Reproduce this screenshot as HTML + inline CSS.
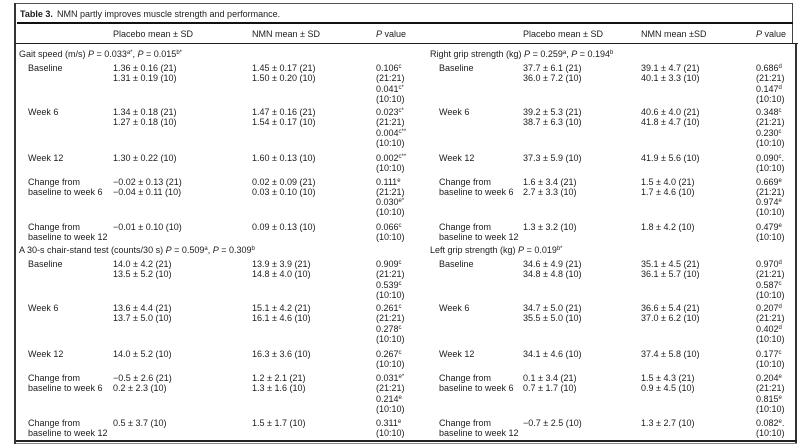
<!DOCTYPE html>
<html>
<head>
<meta charset="utf-8">
<style>
html,body{margin:0;padding:0;background:#fff;}
body{width:800px;height:444px;position:relative;overflow:hidden;font-family:"Liberation Sans",Arial,sans-serif;color:#1c1c1c;}
.t{position:absolute;font-size:9px;line-height:10.3px;white-space:nowrap;}
sup{font-size:6px;line-height:0;vertical-align:3px;}
i{font-style:italic;}
.ln{position:absolute;background:#2a2a2a;}
</style>
</head>
<body>
<!-- borders and rules -->
<div class="ln" style="left:14px;top:3px;width:779px;height:1px;background:#555;"></div>
<div class="ln" style="left:14px;top:3px;width:2px;height:441px;background:#333;"></div>
<div class="ln" style="left:792px;top:3px;width:1px;height:41px;background:#444;"></div>
<div class="ln" style="left:795px;top:43px;width:2px;height:401px;background:#333;"></div>
<div class="ln" style="left:17px;top:22px;width:776px;height:2px;background:#111;"></div>
<div class="ln" style="left:15px;top:43px;width:783px;height:1px;background:#222;"></div>
<div class="ln" style="left:16px;top:440px;width:781px;height:2px;background:#222;"></div>
<div class="ln" style="left:16px;top:443px;width:781px;height:1px;background:#888;"></div>

<!-- title -->
<div class="t" style="left:20px;top:9px;"><b>Table 3.</b></div>
<div class="t" style="left:57px;top:9px;">NMN partly improves muscle strength and performance.</div>

<!-- header -->
<div class="t" style="left:113px;top:29px;">Placebo mean ± SD</div>
<div class="t" style="left:252px;top:29px;">NMN mean ± SD</div>
<div class="t" style="left:376px;top:29px;"><i>P</i> value</div>
<div class="t" style="left:523px;top:29px;">Placebo mean ± SD</div>
<div class="t" style="left:641px;top:29px;">NMN mean ±SD</div>
<div class="t" style="left:756px;top:29px;"><i>P</i> value</div>

<!-- LEFT: Gait speed -->
<div class="t" style="left:19px;top:49px;">Gait speed (m/s) <i>P</i> = 0.033<sup>a*</sup>, <i>P</i> = 0.015<sup>b*</sup></div>

<div class="t" style="left:28px;top:63px;">Baseline</div>
<div class="t" style="left:113px;top:63px;">1.36 ± 0.16 (21)<br>1.31 ± 0.19 (10)</div>
<div class="t" style="left:252px;top:63px;">1.45 ± 0.17 (21)<br>1.50 ± 0.20 (10)</div>
<div class="t" style="left:376px;top:63px;">0.106<sup>c</sup><br>(21:21)<br>0.041<sup>c*</sup><br>(10:10)</div>

<div class="t" style="left:28px;top:107.2px;">Week 6</div>
<div class="t" style="left:113px;top:107.2px;">1.34 ± 0.18 (21)<br>1.27 ± 0.18 (10)</div>
<div class="t" style="left:252px;top:107.2px;">1.47 ± 0.16 (21)<br>1.54 ± 0.17 (10)</div>
<div class="t" style="left:376px;top:107.2px;">0.023<sup>c*</sup><br>(21:21)<br>0.004<sup>c**</sup><br>(10:10)</div>

<div class="t" style="left:28px;top:152.6px;">Week 12</div>
<div class="t" style="left:113px;top:152.6px;">1.30 ± 0.22 (10)</div>
<div class="t" style="left:252px;top:152.6px;">1.60 ± 0.13 (10)</div>
<div class="t" style="left:376px;top:152.6px;">0.002<sup>c**</sup><br>(10:10)</div>

<div class="t" style="left:28px;top:176.6px;">Change from<br>baseline to week 6</div>
<div class="t" style="left:113px;top:176.6px;">−0.02 ± 0.13 (21)<br>−0.04 ± 0.11 (10)</div>
<div class="t" style="left:252px;top:176.6px;">0.02 ± 0.09 (21)<br>0.03 ± 0.10 (10)</div>
<div class="t" style="left:376px;top:176.6px;">0.111<sup>e</sup><br>(21:21)<br>0.030<sup>e*</sup><br>(10:10)</div>

<div class="t" style="left:28px;top:221.6px;">Change from<br>baseline to week 12</div>
<div class="t" style="left:113px;top:221.6px;">−0.01 ± 0.10 (10)</div>
<div class="t" style="left:252px;top:221.6px;">0.09 ± 0.13 (10)</div>
<div class="t" style="left:376px;top:221.6px;">0.066<sup>c</sup><br>(10:10)</div>

<!-- LEFT: chair-stand -->
<div class="t" style="left:19px;top:245px;">A 30-s chair-stand test (counts/30 s) <i>P</i> = 0.509<sup>a</sup>, <i>P</i> = 0.309<sup>b</sup></div>

<div class="t" style="left:28px;top:259px;">Baseline</div>
<div class="t" style="left:113px;top:259px;">14.0 ± 4.2 (21)<br>13.5 ± 5.2 (10)</div>
<div class="t" style="left:252px;top:259px;">13.9 ± 3.9 (21)<br>14.8 ± 4.0 (10)</div>
<div class="t" style="left:376px;top:259px;">0.909<sup>c</sup><br>(21:21)<br>0.539<sup>c</sup><br>(10:10)</div>

<div class="t" style="left:28px;top:303.2px;">Week 6</div>
<div class="t" style="left:113px;top:303.2px;">13.6 ± 4.4 (21)<br>13.7 ± 5.0 (10)</div>
<div class="t" style="left:252px;top:303.2px;">15.1 ± 4.2 (21)<br>16.1 ± 4.6 (10)</div>
<div class="t" style="left:376px;top:303.2px;">0.261<sup>c</sup><br>(21:21)<br>0.278<sup>c</sup><br>(10:10)</div>

<div class="t" style="left:28px;top:348.9px;">Week 12</div>
<div class="t" style="left:113px;top:348.9px;">14.0 ± 5.2 (10)</div>
<div class="t" style="left:252px;top:348.9px;">16.3 ± 3.6 (10)</div>
<div class="t" style="left:376px;top:348.9px;">0.267<sup>c</sup><br>(10:10)</div>

<div class="t" style="left:28px;top:373.2px;">Change from<br>baseline to week 6</div>
<div class="t" style="left:113px;top:373.2px;">−0.5 ± 2.6 (21)<br>0.2 ± 2.3 (10)</div>
<div class="t" style="left:252px;top:373.2px;">1.2 ± 2.1 (21)<br>1.3 ± 1.6 (10)</div>
<div class="t" style="left:376px;top:373.2px;">0.031<sup>e*</sup><br>(21:21)<br>0.214<sup>e</sup><br>(10:10)</div>

<div class="t" style="left:28px;top:417.6px;">Change from<br>baseline to week 12</div>
<div class="t" style="left:113px;top:417.6px;">0.5 ± 3.7 (10)</div>
<div class="t" style="left:252px;top:417.6px;">1.5 ± 1.7 (10)</div>
<div class="t" style="left:376px;top:417.6px;">0.311<sup>e</sup><br>(10:10)</div>

<!-- RIGHT: Right grip -->
<div class="t" style="left:430px;top:49px;">Right grip strength (kg) <i>P</i> = 0.259<sup>a</sup>, <i>P</i> = 0.194<sup>b</sup></div>

<div class="t" style="left:439px;top:63px;">Baseline</div>
<div class="t" style="left:523px;top:63px;">37.7 ± 6.1 (21)<br>36.0 ± 7.2 (10)</div>
<div class="t" style="left:641px;top:63px;">39.1 ± 4.7 (21)<br>40.1 ± 3.3 (10)</div>
<div class="t" style="left:756px;top:63px;">0.686<sup>d</sup><br>(21:21)<br>0.147<sup>d</sup><br>(10:10)</div>

<div class="t" style="left:439px;top:107.2px;">Week 6</div>
<div class="t" style="left:523px;top:107.2px;">39.2 ± 5.3 (21)<br>38.7 ± 6.3 (10)</div>
<div class="t" style="left:641px;top:107.2px;">40.6 ± 4.0 (21)<br>41.8 ± 4.7 (10)</div>
<div class="t" style="left:756px;top:107.2px;">0.348<sup>c</sup><br>(21:21)<br>0.230<sup>c</sup><br>(10:10)</div>

<div class="t" style="left:439px;top:152.6px;">Week 12</div>
<div class="t" style="left:523px;top:152.6px;">37.3 ± 5.9 (10)</div>
<div class="t" style="left:641px;top:152.6px;">41.9 ± 5.6 (10)</div>
<div class="t" style="left:756px;top:152.6px;">0.090<sup>c</sup>.<br>(10:10)</div>

<div class="t" style="left:439px;top:176.6px;">Change from<br>baseline to week 6</div>
<div class="t" style="left:523px;top:176.6px;">1.6 ± 3.4 (21)<br>2.7 ± 3.3 (10)</div>
<div class="t" style="left:641px;top:176.6px;">1.5 ± 4.0 (21)<br>1.7 ± 4.6 (10)</div>
<div class="t" style="left:756px;top:176.6px;">0.669<sup>e</sup><br>(21:21)<br>0.974<sup>e</sup><br>(10:10)</div>

<div class="t" style="left:439px;top:221.6px;">Change from<br>baseline to week 12</div>
<div class="t" style="left:523px;top:221.6px;">1.3 ± 3.2 (10)</div>
<div class="t" style="left:641px;top:221.6px;">1.8 ± 4.2 (10)</div>
<div class="t" style="left:756px;top:221.6px;">0.479<sup>e</sup><br>(10:10)</div>

<!-- RIGHT: Left grip -->
<div class="t" style="left:430px;top:245px;">Left grip strength (kg) <i>P</i> = 0.019<sup>b*</sup></div>

<div class="t" style="left:439px;top:259px;">Baseline</div>
<div class="t" style="left:523px;top:259px;">34.6 ± 4.9 (21)<br>34.8 ± 4.8 (10)</div>
<div class="t" style="left:641px;top:259px;">35.1 ± 4.5 (21)<br>36.1 ± 5.7 (10)</div>
<div class="t" style="left:756px;top:259px;">0.970<sup>d</sup><br>(21:21)<br>0.587<sup>c</sup><br>(10:10)</div>

<div class="t" style="left:439px;top:303.2px;">Week 6</div>
<div class="t" style="left:523px;top:303.2px;">34.7 ± 5.0 (21)<br>35.5 ± 5.0 (10)</div>
<div class="t" style="left:641px;top:303.2px;">36.6 ± 5.4 (21)<br>37.0 ± 6.2 (10)</div>
<div class="t" style="left:756px;top:303.2px;">0.207<sup>d</sup><br>(21:21)<br>0.402<sup>d</sup><br>(10:10)</div>

<div class="t" style="left:439px;top:348.9px;">Week 12</div>
<div class="t" style="left:523px;top:348.9px;">34.1 ± 4.6 (10)</div>
<div class="t" style="left:641px;top:348.9px;">37.4 ± 5.8 (10)</div>
<div class="t" style="left:756px;top:348.9px;">0.177<sup>c</sup><br>(10:10)</div>

<div class="t" style="left:439px;top:373.2px;">Change from<br>baseline to week 6</div>
<div class="t" style="left:523px;top:373.2px;">0.1 ± 3.4 (21)<br>0.7 ± 1.7 (10)</div>
<div class="t" style="left:641px;top:373.2px;">1.5 ± 4.3 (21)<br>0.9 ± 4.5 (10)</div>
<div class="t" style="left:756px;top:373.2px;">0.204<sup>e</sup><br>(21:21)<br>0.815<sup>e</sup><br>(10:10)</div>

<div class="t" style="left:439px;top:417.6px;">Change from<br>baseline to week 12</div>
<div class="t" style="left:523px;top:417.6px;">−0.7 ± 2.5 (10)</div>
<div class="t" style="left:641px;top:417.6px;">1.3 ± 2.7 (10)</div>
<div class="t" style="left:756px;top:417.6px;">0.082<sup>e</sup>.<br>(10:10)</div>
</body>
</html>
